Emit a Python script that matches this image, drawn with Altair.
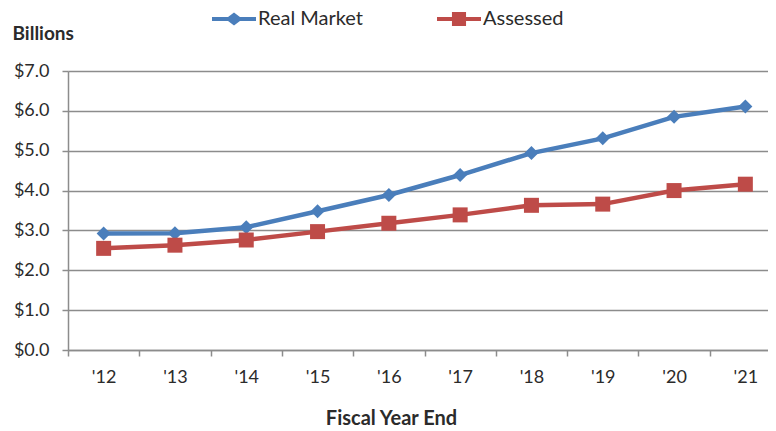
import altair as alt
import pandas as pd

years = ["'12", "'13", "'14", "'15", "'16", "'17", "'18", "'19", "'20", "'21"]
real_market = [2.92, 2.93, 3.08, 3.48, 3.89, 4.39, 4.94, 5.31, 5.85, 6.11]
assessed = [2.55, 2.63, 2.76, 2.97, 3.18, 3.39, 3.63, 3.66, 4.00, 4.16]
series_names = ["Real Market", "Assessed"]
series_colors = ["#4A7EBB", "#BE4B48"]
y_ticks = [0, 1, 2, 3, 4, 5, 6, 7]

rows = []
for yr, v in zip(years, real_market):
    rows.append({"year": yr, "value": v, "series": "Real Market"})
for yr, v in zip(years, assessed):
    rows.append({"year": yr, "value": v, "series": "Assessed"})
df = pd.DataFrame(rows)

FONT = "Lato"
TXT = "#2b2b2b"
GRID = "#8c8c8c"

# legend symbols: thick line with a marker in the middle (unit coordinates)
legend_paths = [
    "M-1,-0.09L1,-0.09L1,0.09L-1,0.09ZM0,-0.3L0.39,0L0,0.3L-0.39,0Z",
    "M-1,-0.09L1,-0.09L1,0.09L-1,0.09ZM-0.32,-0.32L0.32,-0.32L0.32,0.32L-0.32,0.32Z",
]

x_enc = alt.X(
    "year:O",
    sort=years,
    scale=alt.Scale(type="band", paddingInner=0, paddingOuter=0),
    axis=alt.Axis(
        title="Fiscal Year End",
        labelAngle=0,
        tickBand="extent",
        grid=False,
        domainColor=GRID,
        domainWidth=1.5,
        tickColor=GRID,
        tickWidth=1.5,
        tickSize=6,
        labelPadding=12,
        labelFontSize=18,
        titleFontSize=20,
        titleFontWeight="bold",
        titlePadding=22,
        titleX=323,
    ),
)
y_enc = alt.Y(
    "value:Q",
    scale=alt.Scale(domain=[0, 7], nice=False),
    axis=alt.Axis(
        values=y_ticks,
        format="$.1f",
        title="Billions",
        titleAngle=0,
        titleAlign="left",
        titleBaseline="middle",
        titleX=-56,
        titleY=-38,
        titleFontSize=19,
        titleFontWeight="bold",
        grid=True,
        gridColor=GRID,
        gridWidth=1.5,
        domainColor=GRID,
        domainWidth=1.5,
        tickColor=GRID,
        tickWidth=1.5,
        tickSize=6,
        labelPadding=13,
        labelFontSize=18,
    ),
)

# colour scale for lines/markers: domain from data (sorted), kept apart from the legend group
color_enc = alt.Color("series:N", sort=series_names, scale=alt.Scale(range=series_colors), legend=None)

lines = alt.Chart(df).mark_line(strokeWidth=4.5).encode(
    x=x_enc,
    y=y_enc,
    color=color_enc,
    detail="series:N",
)

diamonds = (
    alt.Chart(df)
    .transform_filter(alt.datum.series == "Real Market")
    .mark_point(shape="diamond", filled=True, size=196, opacity=1)
    .encode(x=x_enc, y=y_enc, color=color_enc)
)

squares = (
    alt.Chart(df)
    .transform_filter(alt.datum.series == "Assessed")
    .mark_point(shape="square", filled=True, size=225, opacity=1)
    .encode(x=x_enc, y=y_enc, color=color_enc)
)

legend_def = alt.Legend(
    title=None,
    orient="none",
    legendX=144,
    legendY=-74,
    direction="horizontal",
    symbolSize=1936,
    symbolStrokeWidth=0,
    symbolOpacity=1,
    labelOffset=2,
    columnPadding=74,
    labelFont=FONT,
    labelFontSize=20,
    labelColor=TXT,
    padding=0,
)

legend_layer = alt.Chart(df).mark_point(filled=True, opacity=0, strokeWidth=0).encode(
    x=x_enc,
    y=y_enc,
    fill=alt.Fill("series:N", scale=alt.Scale(domain=series_names, range=series_colors), legend=legend_def),
    shape=alt.Shape("series:N", scale=alt.Scale(domain=series_names, range=legend_paths), legend=legend_def),
)

chart = (
    alt.layer(lines, diamonds, squares, legend_layer)
    .properties(
        width=713,
        height=279,
        autosize=alt.AutoSizeParams(type="none"),
        padding={"left": 60, "top": 63, "right": -13, "bottom": 80},
    )
    .configure_view(stroke=None)
    .configure_axis(labelFont=FONT, titleFont=FONT, labelColor=TXT, titleColor=TXT)
)

chart.save("out.html", embed_options={"renderer": "svg", "actions": False})
